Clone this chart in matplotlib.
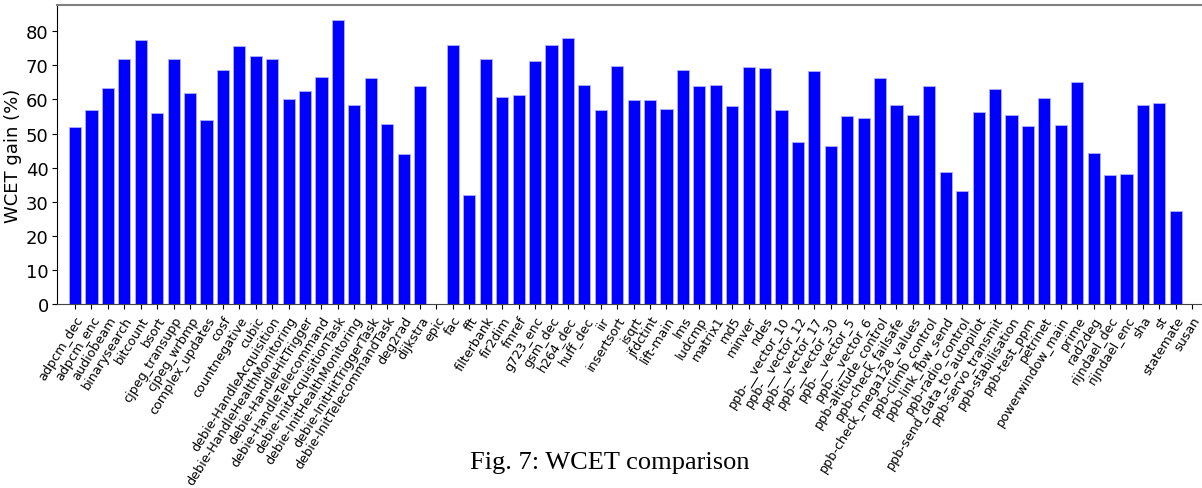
import matplotlib
matplotlib.use("Agg")
import matplotlib.pyplot as plt
import numpy as np

benchmarks = [
    "adpcm_dec", "adpcm_enc", "audiobeam", "binarysearch", "bitcount", "bsort",
    "cjpeg_transupp", "cjpeg_wrbmp", "complex_updates", "cosf", "countnegative",
    "cubic", "debie-HandleAcquisition", "debie-HandleHealthMonitoring",
    "debie-HandleHitTrigger", "debie-HandleTelecommand",
    "debie-InitAcquisitionTask", "debie-InitHealthMonitoring",
    "debie-InitHitTriggerTask", "debie-InitTelecommandTask", "deg2rad",
    "dijkstra", "epic", "fac", "fft", "filterbank", "fir2dim", "fmref",
    "g723_enc", "gsm_dec", "h264_dec", "huff_dec", "iir", "insertsort",
    "isqrt", "jfdctint", "lift-main", "lms", "ludcmp", "matrix1", "md5",
    "minver", "ndes", "ppb-__vector_10", "ppb-__vector_12", "ppb-__vector_17",
    "ppb-__vector_30", "ppb-__vector_5", "ppb-__vector_6",
    "ppb-altitude_control", "ppb-check_failsafe", "ppb-check_mega128_values",
    "ppb-climb_control", "ppb-link_fbw_send", "ppb-radio_control",
    "ppb-send_data_to_autopilot", "ppb-servo_transmit", "ppb-stabilisation",
    "ppb-test_ppm", "petrinet", "powerwindow_main", "prime", "rad2deg",
    "rijndael_dec", "rijndael_enc", "sha", "st", "statemate", "susan",
]

wcet_gain = [
    51.8, 57.0, 63.5, 72.0, 77.4, 55.9,
    72.0, 61.8, 54.0, 68.5, 75.6,
    72.6, 72.0, 60.2,
    62.5, 66.5,
    83.3, 58.5,
    66.3, 52.7, 44.1,
    63.8, 0.0, 75.9, 31.9, 71.9, 60.6, 61.2,
    71.3, 76.1, 78.1, 64.1, 57.0, 69.7,
    59.7, 59.7, 57.1, 68.5, 63.9, 64.1, 58.1,
    69.4, 69.1, 56.8, 47.4, 68.3,
    46.2, 55.1, 54.5,
    66.4, 58.3, 55.5,
    63.8, 38.7, 33.0,
    56.2, 63.0, 55.3,
    52.1, 60.3, 52.4, 65.2, 44.2,
    37.9, 38.1, 58.3, 58.9, 27.2, 0.0,
]

fig = plt.figure(figsize=(12.02, 4.89), dpi=100)
ax = fig.add_axes([57 / 1202, 1 - 305 / 489, (1202 - 57) / 1202, (305 - 6) / 489])

x = np.arange(len(benchmarks))
ax.bar(x, wcet_gain, width=0.74, color="blue", edgecolor="#b0b0ff", linewidth=0.6)

ax.set_xlim(-1.1, 68.6)
ax.set_ylim(0, 87.7)
ax.set_yticks(range(0, 90, 10))
ax.tick_params(axis="y", labelsize=13, pad=2.5)
ax.set_xticks(x)
ax.set_xticklabels(benchmarks, rotation=58, ha="right", rotation_mode="anchor", fontsize=9.2)
ax.set_ylabel("WCET gain (%)", fontsize=13, labelpad=3)

ax.spines["right"].set_visible(False)
ax.spines["top"].set_color("grey")
ax.spines["top"].set_linewidth(1.5)
ax.spines["bottom"].set_color("#444444")

fig.text(610 / 1202, 1 - 463 / 489, "Fig. 7: WCET comparison",
         family="Liberation Serif", fontsize=19, ha="center", va="center")

fig.savefig("out.png", dpi=100)
